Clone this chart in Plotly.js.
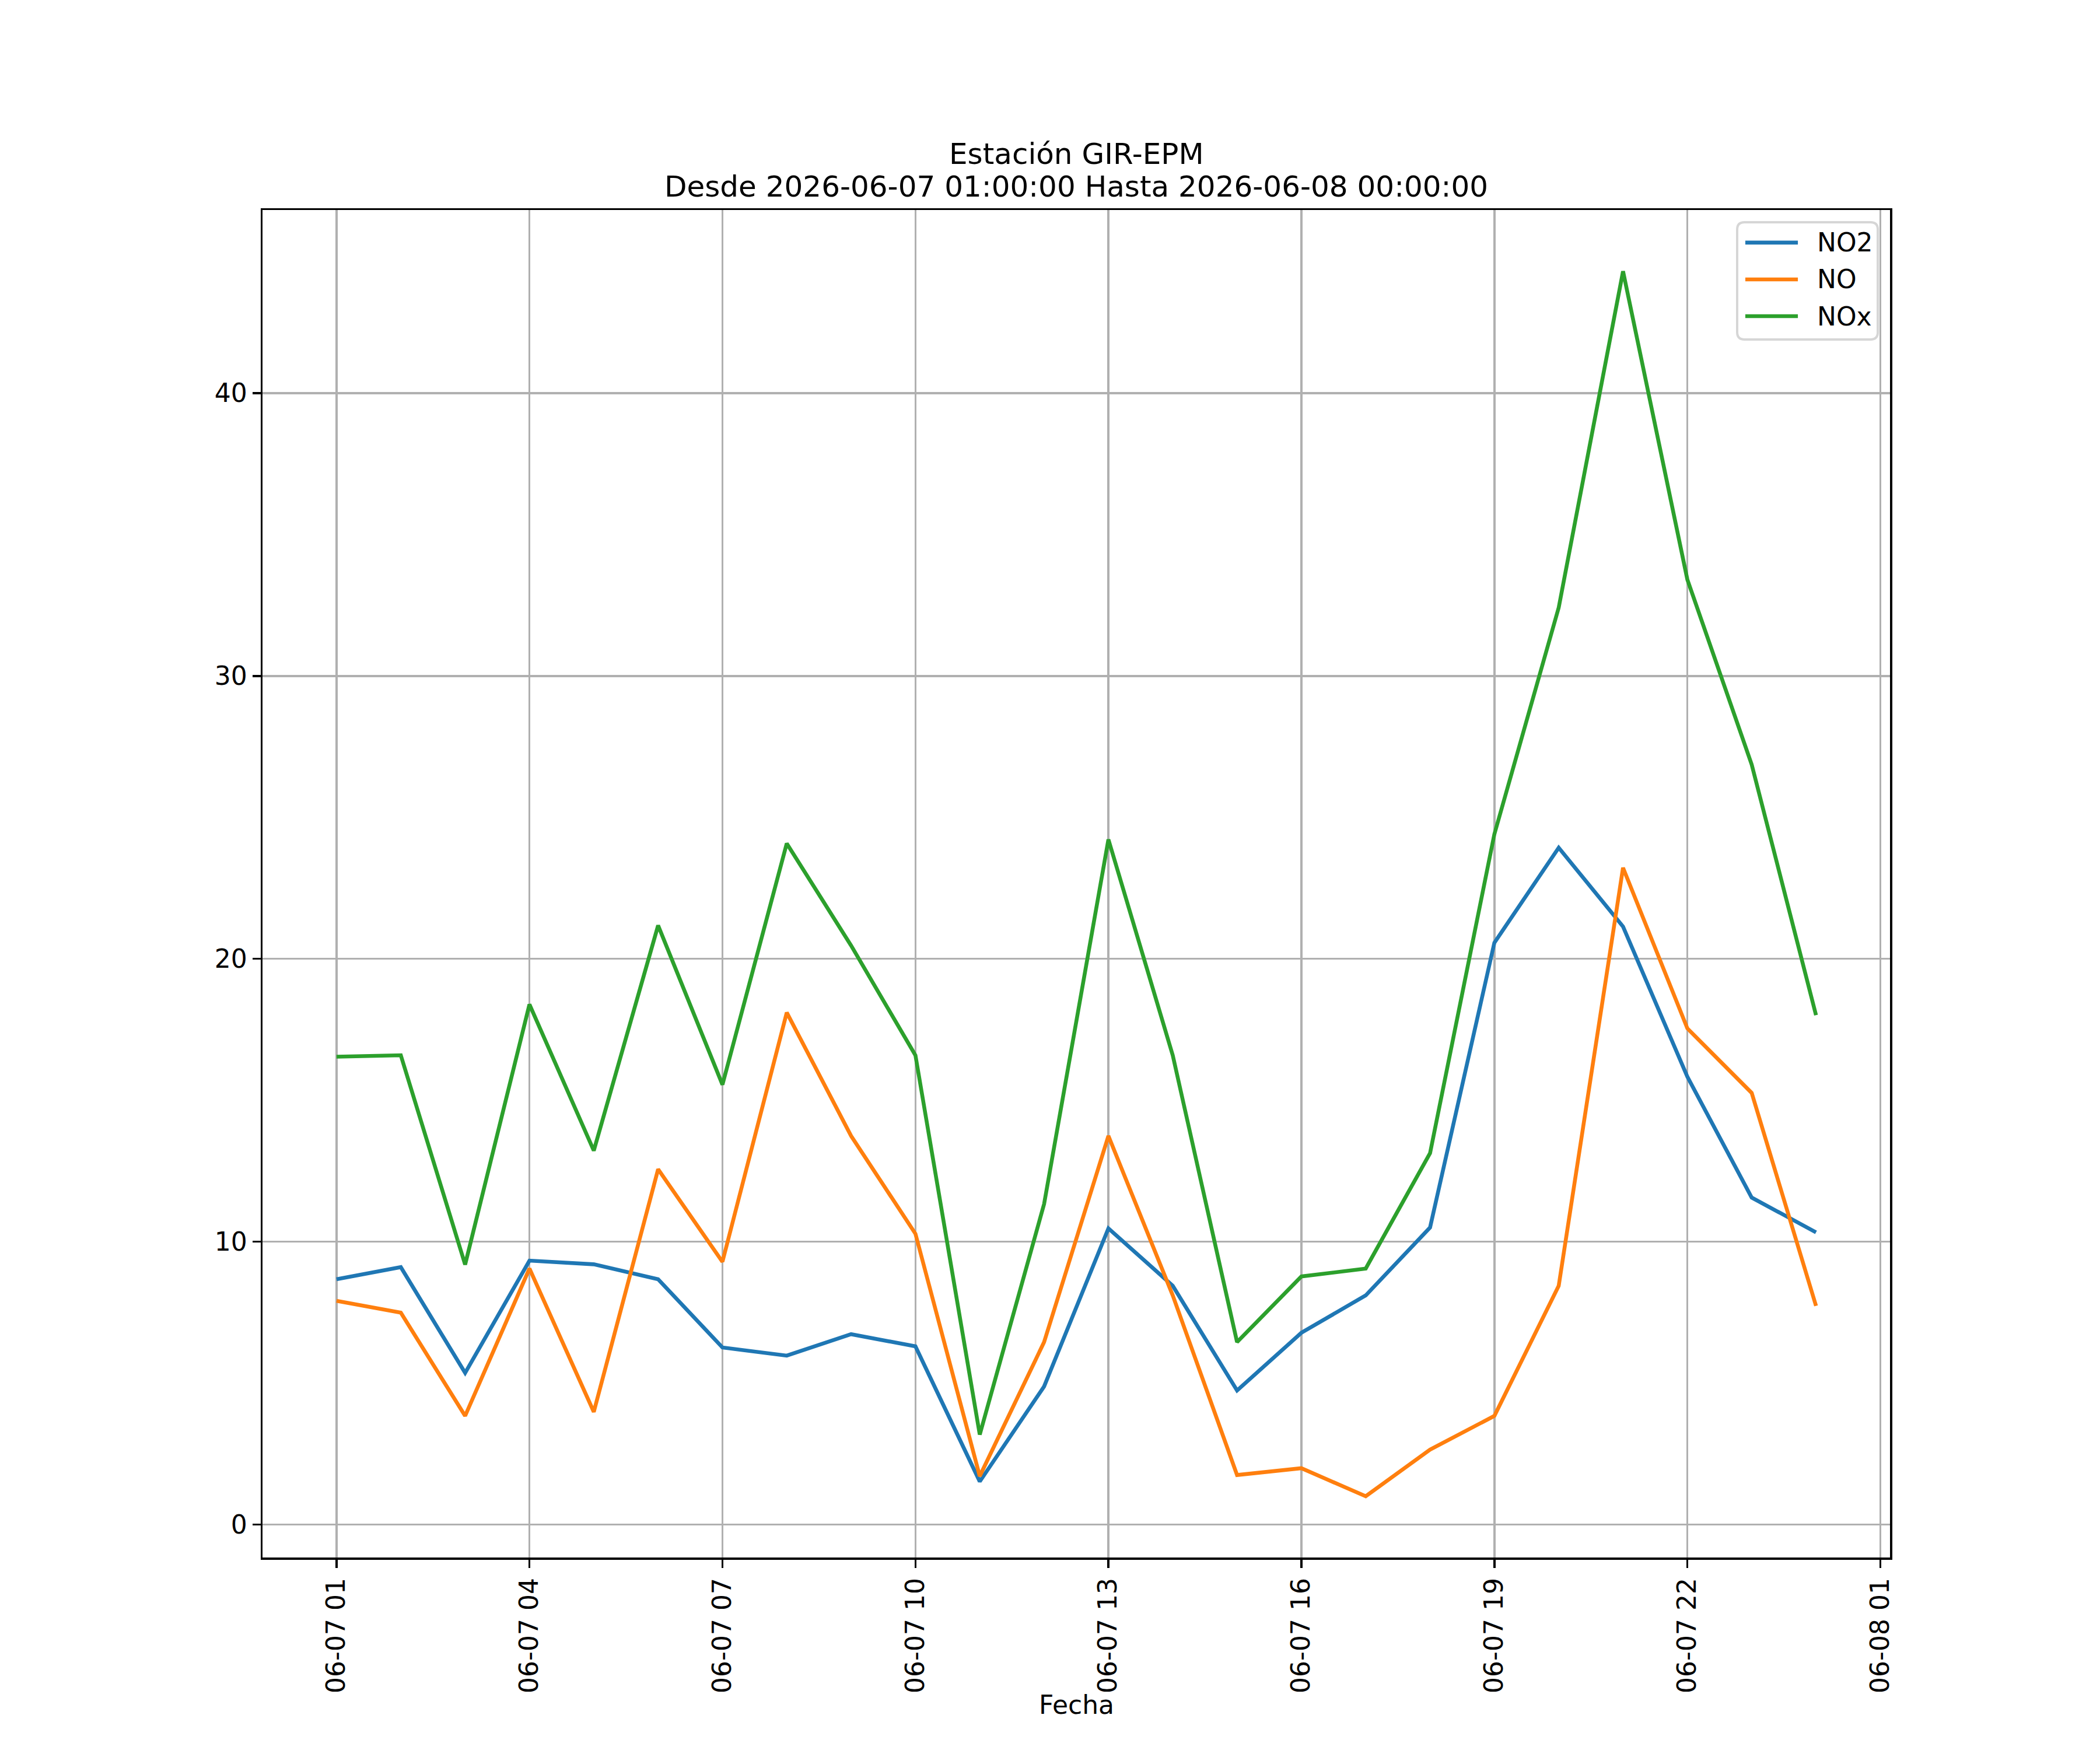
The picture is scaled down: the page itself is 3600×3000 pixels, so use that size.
<!DOCTYPE html>
<html>
<head>
<meta charset="utf-8">
<script src="https://cdn.plot.ly/plotly-3.0.1.min.js"></script>
<style>
  body { margin: 0; background: #fff; }
  #chart { width: 3600px; height: 3000px; }
</style>
</head>
<body>
<div id="chart"></div>
<script>
// hourly timestamps, 06-07 01:00 .. 06-08 00:00
var fechas = [
  '2026-06-07 01:00', '2026-06-07 02:00', '2026-06-07 03:00', '2026-06-07 04:00',
  '2026-06-07 05:00', '2026-06-07 06:00', '2026-06-07 07:00', '2026-06-07 08:00',
  '2026-06-07 09:00', '2026-06-07 10:00', '2026-06-07 11:00', '2026-06-07 12:00',
  '2026-06-07 13:00', '2026-06-07 14:00', '2026-06-07 15:00', '2026-06-07 16:00',
  '2026-06-07 17:00', '2026-06-07 18:00', '2026-06-07 19:00', '2026-06-07 20:00',
  '2026-06-07 21:00', '2026-06-07 22:00', '2026-06-07 23:00', '2026-06-08 00:00'
];

var no2 = [8.67, 9.1, 5.36, 9.33, 9.2, 8.67, 6.26, 5.97, 6.73, 6.3, 1.52, 4.88,
           10.47, 8.44, 4.74, 6.78, 8.1, 10.5, 20.57, 23.93, 21.14, 15.83, 11.56, 10.33];

var no = [7.91, 7.49, 3.84, 9.05, 3.98, 12.56, 9.29, 18.1, 13.74, 10.28, 1.71, 6.45,
          13.74, 8.1, 1.75, 1.99, 1.0, 2.65, 3.84, 8.44, 23.22, 17.54, 15.26, 7.73];

var nox = [16.54, 16.59, 9.19, 18.39, 13.22, 21.18, 15.55, 24.08, 20.47, 16.59, 3.18, 11.33,
           24.22, 16.59, 6.45, 8.77, 9.05, 13.13, 24.41, 32.42, 44.31, 33.41, 26.87, 18.01];

var nombres = ['NO2', 'NO', 'NOx'];
var colores = ['#1f77b4', '#ff7f0e', '#2ca02c'];

var tickFechas = ['2026-06-07 01:00', '2026-06-07 04:00', '2026-06-07 07:00', '2026-06-07 10:00',
                  '2026-06-07 13:00', '2026-06-07 16:00', '2026-06-07 19:00', '2026-06-07 22:00',
                  '2026-06-08 01:00'];
var tickTextos = ['06-07 01', '06-07 04', '06-07 07', '06-07 10', '06-07 13',
                  '06-07 16', '06-07 19', '06-07 22', '06-08 01'];

var fuente = 'DejaVu Sans, sans-serif';

var data = [no2, no, nox].map(function (y, i) {
  return {x: fechas, y: y, name: nombres[i], type: 'scatter', mode: 'lines',
          line: {color: colores[i], width: 6.6}};
});

// legend drawn by hand so it looks like the matplotlib one
var shapes = [];
var annotations = [];
var lx0 = 0.9061, lx1 = 0.9925, ly0 = 0.9039, ly1 = 0.9909;
var rx = 0.0045, ry = 0.0054;
shapes.push({
  type: 'path', xref: 'paper', yref: 'paper',
  path: 'M ' + (lx0 + rx) + ' ' + ly1 + ' L ' + (lx1 - rx) + ' ' + ly1 +
        ' Q ' + lx1 + ' ' + ly1 + ' ' + lx1 + ' ' + (ly1 - ry) +
        ' L ' + lx1 + ' ' + (ly0 + ry) +
        ' Q ' + lx1 + ' ' + ly0 + ' ' + (lx1 - rx) + ' ' + ly0 +
        ' L ' + (lx0 + rx) + ' ' + ly0 +
        ' Q ' + lx0 + ' ' + ly0 + ' ' + lx0 + ' ' + (ly0 + ry) +
        ' L ' + lx0 + ' ' + (ly1 - ry) +
        ' Q ' + lx0 + ' ' + ly1 + ' ' + (lx0 + rx) + ' ' + ly1 + ' Z',
  fillcolor: 'rgba(255,255,255,0.8)',
  line: {color: '#d6d6d6', width: 4},
  layer: 'above'
});
var filas = [0.9758, 0.9485, 0.9212];
nombres.forEach(function (n, i) {
  shapes.push({
    type: 'line', xref: 'paper', yref: 'paper',
    x0: 0.9111, x1: 0.9434, y0: filas[i], y1: filas[i],
    line: {color: colores[i], width: 6.6}, layer: 'above'
  });
  annotations.push({
    xref: 'paper', yref: 'paper', x: 0.9545, y: filas[i],
    xanchor: 'left', yanchor: 'middle', showarrow: false,
    text: n, font: {family: fuente, size: 44, color: '#000'}
  });
});

// title lines and x label
annotations.push({
  xref: 'paper', yref: 'paper', x: 0.5, y: 1.0416, xanchor: 'center', yanchor: 'middle',
  showarrow: false, text: 'Estación GIR-EPM',
  font: {family: fuente, size: 50, color: '#000'}
});
annotations.push({
  xref: 'paper', yref: 'paper', x: 0.5, y: 1.0173, xanchor: 'center', yanchor: 'middle',
  showarrow: false, text: 'Desde 2026-06-07 01:00:00 Hasta 2026-06-08 00:00:00',
  font: {family: fuente, size: 50, color: '#000'}
});
annotations.push({
  xref: 'paper', yref: 'paper', x: 0.5, y: -0.1091, xanchor: 'center', yanchor: 'middle',
  showarrow: false, text: 'Fecha',
  font: {family: fuente, size: 44, color: '#000'}
});

var layout = {
  width: 3600,
  height: 3000,
  paper_bgcolor: '#ffffff',
  plot_bgcolor: '#ffffff',
  font: {family: fuente, size: 44, color: '#000'},
  margin: {l: 450, r: 360, t: 360, b: 330},
  showlegend: false,
  xaxis: {
    type: 'date',
    range: ['2026-06-06 23:51', '2026-06-08 01:09'],
    tickmode: 'array',
    tickvals: tickFechas,
    ticktext: tickTextos,
    tickangle: -90,
    ticks: 'outside', ticklen: 14, tickwidth: 3.5, tickcolor: '#000',
    showgrid: true, gridcolor: '#b0b0b0', gridwidth: 3.5,
    showline: true, linecolor: '#000', linewidth: 3.5, mirror: true,
    zeroline: false,
    tickfont: {family: fuente, size: 44, color: '#000'}
  },
  yaxis: {
    range: [-1.166, 46.476],
    tickvals: [0, 10, 20, 30, 40],
    ticks: 'outside', ticklen: 14, tickwidth: 3.5, tickcolor: '#000',
    showgrid: true, gridcolor: '#b0b0b0', gridwidth: 3.5,
    showline: true, linecolor: '#000', linewidth: 3.5, mirror: true,
    zeroline: false,
    tickfont: {family: fuente, size: 44, color: '#000'}
  },
  shapes: shapes,
  annotations: annotations
};

Plotly.newPlot('chart', data, layout, {staticPlot: true});
</script>
</body>
</html>
